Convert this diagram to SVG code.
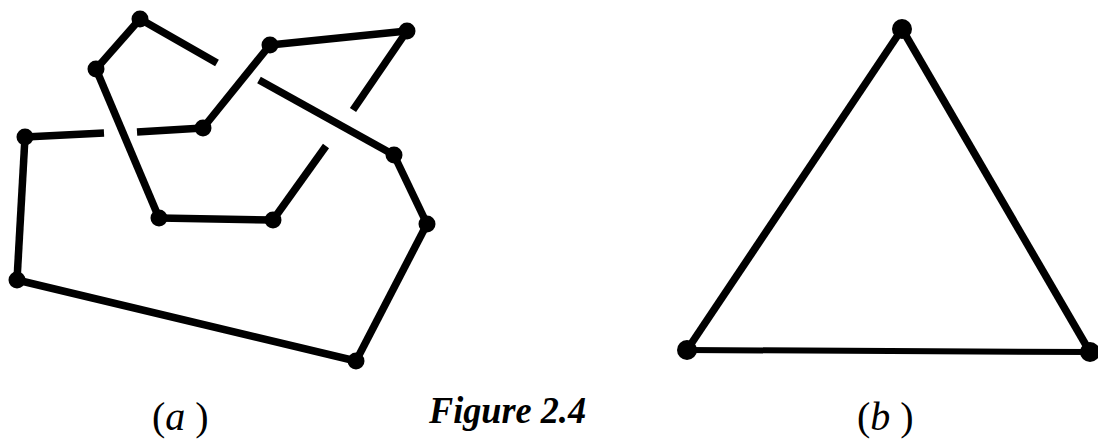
<svg xmlns="http://www.w3.org/2000/svg" width="1098" height="439" viewBox="0 0 1098 439">
<style>
.e{stroke:#000;stroke-width:7.5;fill:none;stroke-linecap:butt;stroke-linejoin:round}
.d{fill:#000}
.lab{font-family:"Liberation Serif",serif;font-size:37px;fill:#000}
.sub{font-size:40px}
.it{font-style:italic}
.bd{font-weight:bold}
</style>
<rect width="1098" height="439" fill="#fff"/>
<g id="connectors">
<line class="e" x1="140" y1="19" x2="96" y2="69"/>
<line class="e" x1="140" y1="19" x2="217" y2="63"/>
<line class="e" x1="259" y1="80" x2="394" y2="155"/>
<line class="e" x1="96" y1="69" x2="159" y2="218"/>
<line class="e" x1="159" y1="218" x2="273" y2="220"/>
<line class="e" x1="273" y1="220" x2="326" y2="146"/>
<line class="e" x1="353" y1="110" x2="407" y2="31"/>
<line class="e" x1="407" y1="31" x2="270" y2="45"/>
<line class="e" x1="270" y1="45" x2="203" y2="128"/>
<line class="e" x1="203" y1="128" x2="137" y2="132"/>
<line class="e" x1="104" y1="133" x2="25" y2="137"/>
<line class="e" x1="25" y1="137" x2="17" y2="280"/>
<line class="e" x1="17" y1="280" x2="356" y2="361"/>
<line class="e" x1="356" y1="361" x2="427" y2="224"/>
<line class="e" x1="427" y1="224" x2="394" y2="155"/>
<line class="e" x1="902" y1="29" x2="687" y2="350"/>
<line class="e" x1="902" y1="29" x2="1090" y2="352"/>
<line class="e" style="stroke-width:6" x1="687" y1="350" x2="1090" y2="352"/>
</g>
<g id="nA"><circle class="d" cx="140" cy="19" r="8.5"/></g>
<g id="nB"><circle class="d" cx="96" cy="69" r="8.5"/></g>
<g id="nC"><circle class="d" cx="270" cy="45" r="8.5"/></g>
<g id="nD"><circle class="d" cx="407" cy="31" r="8.5"/></g>
<g id="nE"><circle class="d" cx="203" cy="128" r="8.5"/></g>
<g id="nF"><circle class="d" cx="25" cy="137" r="8.5"/></g>
<g id="nG"><circle class="d" cx="394" cy="155" r="8.5"/></g>
<g id="nH"><circle class="d" cx="159" cy="218" r="8.5"/></g>
<g id="nI"><circle class="d" cx="273" cy="220" r="8.5"/></g>
<g id="nJ"><circle class="d" cx="427" cy="224" r="8.5"/></g>
<g id="nK"><circle class="d" cx="17" cy="280" r="8.5"/></g>
<g id="nL"><circle class="d" cx="356" cy="361" r="8.5"/></g>
<g id="tTop"><circle class="d" cx="902" cy="29" r="10"/></g>
<g id="tLeft"><circle class="d" cx="687" cy="350" r="10"/></g>
<g id="tRight"><circle class="d" cx="1090" cy="352" r="10"/></g>
<text class="lab sub" x="152" y="430">(<tspan class="it">a</tspan> )</text>
<text class="lab it bd" x="429" y="423" textLength="157" lengthAdjust="spacingAndGlyphs">Figure 2.4</text>
<text class="lab sub" x="857" y="430">(<tspan class="it">b</tspan> )</text>
</svg>
